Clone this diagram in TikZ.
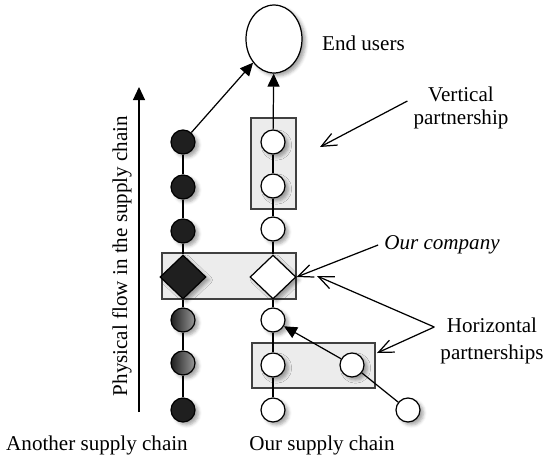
\documentclass[tikz,border=0pt]{standalone}
\usepackage{fontspec}
\setmainfont{Liberation Serif}
\usepackage{xcolor}
\usepackage{tikz}
\usetikzlibrary{shapes.geometric,arrows.meta,positioning,shadows.blur}
\definecolor{boxgray}{RGB}{236,236,236}

\tikzset{
  dot/.style={circle, draw=black, minimum size=0.48cm, inner sep=0pt, line width=0.7pt,
    blur shadow={shadow xshift=0.07cm, shadow yshift=-0.06cm, shadow opacity=35}},
  blackdot/.style={dot, fill=black!88},
  whitedot/.style={dot, fill=white},
  greydot/.style={dot, left color=black!88, right color=black!40},
  company/.style={diamond, draw=black, minimum width=0.92cm, minimum height=0.88cm, inner sep=0pt,
    line width=0.7pt, blur shadow={shadow xshift=0.07cm, shadow yshift=-0.06cm, shadow opacity=35}},
  partnerbox/.style={draw=black!75, fill=boxgray, line width=0.6pt},
  flowarrow/.style={-{Triangle[length=0.26cm,width=0.24cm]}, line width=0.7pt},
  callout/.style={-{Straight Barb[length=0.3cm,width=0.26cm]}, line width=0.7pt}
}

\begin{document}
\begin{tikzpicture}[x=0.02cm, y=-0.02cm, font=\fontsize{12}{14}\selectfont]
\useasboundingbox (0,0) rectangle (548,461);

% Partnership boxes
\draw[partnerbox] (251,118) rectangle (296,209);
\draw[partnerbox] (162,253) rectangle (296,299);
\draw[partnerbox] (252,343) rectangle (375,388);

% End users
\node[ellipse, draw=black, fill=white, line width=0.7pt, minimum width=1.12cm, minimum height=1.36cm,
  blur shadow={shadow xshift=0.07cm, shadow yshift=-0.06cm, shadow opacity=35}] (users) at (274,39) {};
\node[anchor=west] (userstxt) at (316,43) {End users};

% Another supply chain
\node[blackdot] (a1) at (183,142) {};
\node[blackdot] (a2) at (183,187) {};
\node[blackdot] (a3) at (183,231) {};
\node[company, fill=black!88] (a4) at (183,277) {};
\node[greydot] (a5) at (183,320) {};
\node[greydot] (a6) at (183,363) {};
\node[blackdot] (a7) at (183,410) {};

% Our supply chain
\node[whitedot] (o1) at (273,142) {};
\node[whitedot] (o2) at (273,186) {};
\node[whitedot] (o3) at (273,229) {};
\node[company, fill=white] (o4) at (273,277) {};
\node[whitedot] (o5) at (273,320) {};
\node[whitedot] (o6) at (273,365) {};
\node[whitedot] (o7) at (273,410) {};

% Horizontal partners
\node[whitedot] (p1) at (352,365) {};
\node[whitedot] (p2) at (408,410) {};

% Chains
\foreach \i/\j in {1/2,2/3,3/4,4/5,5/6,6/7} {
  \draw[line width=0.7pt] (a\i) -- (a\j);
  \draw[line width=0.7pt] (o\i) -- (o\j);
}
\draw[line width=0.7pt] (p1) -- (p2);
\draw[flowarrow] (p1) -- (o5);
\draw[flowarrow] (o1) -- (users);
\draw[flowarrow] (a1) -- (users);

% Physical flow
\coordinate (flowbot) at (139,412);
\coordinate (flowtop) at (139,87);
\draw[flowarrow] (flowbot) -- (flowtop);
\node[rotate=90] (flowtxt) at (122,256) {Physical flow in the supply chain};

% Labels
\node[align=center, font=\fontsize{12}{13}\selectfont] (vert) at (461,108) {Vertical\\partnership};
\coordinate (verttip) at (320,147);
\draw[callout] ([yshift=0.14cm]vert.west) -- (verttip);

\node[font=\itshape\fontsize{12}{14}\selectfont] (ourco) at (442,245) {Our company};
\draw[callout] (ourco.west) -- (o4.east);

\node[align=center, font=\fontsize{12}{15.5}\selectfont] (horiz) at (492,341) {Horizontal\\partnerships};
\coordinate (horiztip1) at (317,276);
\coordinate (horiztip2) at (377,353);
\draw[callout] ([yshift=0.28cm]horiz.west) -- (horiztip1);
\draw[callout] ([yshift=0.28cm]horiz.west) -- (horiztip2);

\node (another) at (97,445) {Another supply chain};
\node (ours) at (322,445) {Our supply chain};
\end{tikzpicture}
\end{document}
